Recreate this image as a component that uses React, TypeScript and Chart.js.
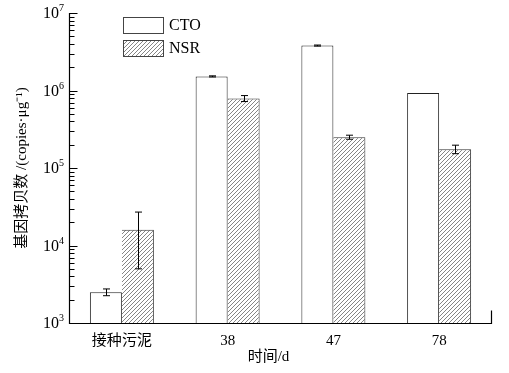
import React, { useEffect, useRef } from 'react';
import { Chart, registerables } from 'chart.js';

Chart.register(...registerables);

const categories = ['接种污泥', '38', '47', '78'];
const seriesNames = ['CTO', 'NSR'];
const ctoValues = [2.5e3, 1.52e6, 3.8e6, 9.3e5];
const ctoErrors = [0.25e3, 0.025e6, 0.06e6, 0];
const nsrValues = [1.6e4, 7.9e5, 2.5e5, 1.75e5];
const nsrErrors = [1.1e4, 0.7e5, 0.15e5, 0.22e5];
const yTickExponents = [3, 4, 5, 6, 7];
const xTitle = '时间/d';
const yTitle = '基因拷贝数 /(copies·μg⁻¹)';

const FONT_FAMILY = '"Liberation Serif", "Noto Sans CJK SC", serif';

function makeHatch(): CanvasPattern | string {
  const c = document.createElement('canvas');
  const s = 4;
  c.width = s;
  c.height = s;
  const g = c.getContext('2d');
  if (!g) return '#fff';
  g.fillStyle = '#fff';
  g.fillRect(0, 0, s, s);
  g.strokeStyle = '#666';
  g.lineWidth = 0.8;
  g.beginPath();
  g.moveTo(0, s);
  g.lineTo(s, 0);
  g.moveTo(-1, 1);
  g.lineTo(1, -1);
  g.moveTo(s - 1, s + 1);
  g.lineTo(s + 1, s - 1);
  g.stroke();
  const p = g.createPattern(c, 'repeat');
  return p || '#fff';
}

export default function App() {
  const ref = useRef<HTMLCanvasElement | null>(null);

  useEffect(() => {
    if (!ref.current) return;
    const hatch = makeHatch();

    const customPlugin = {
      id: 'customDecor',
      afterDatasetsDraw(chart: any) {
        const { ctx, chartArea, scales } = chart;
        const y = scales.y;
        const x = scales.x;
        ctx.save();
        ctx.strokeStyle = '#000';
        ctx.fillStyle = '#000';
        ctx.lineWidth = 1;

        // error bars
        const drawErr = (dsIndex: number, values: number[], errors: number[]) => {
          const meta = chart.getDatasetMeta(dsIndex);
          meta.data.forEach((bar: any, i: number) => {
            const e = errors[i];
            if (!e) return;
            const cx = Math.round(bar.x) + 0.5;
            const yt = y.getPixelForValue(values[i] + e);
            const yb = y.getPixelForValue(values[i] - e);
            ctx.beginPath();
            ctx.moveTo(cx, yt);
            ctx.lineTo(cx, yb);
            ctx.moveTo(cx - 3.5, yt);
            ctx.lineTo(cx + 3.5, yt);
            ctx.moveTo(cx - 3.5, yb);
            ctx.lineTo(cx + 3.5, yb);
            ctx.stroke();
          });
        };
        drawErr(0, ctoValues, ctoErrors);
        drawErr(1, nsrValues, nsrErrors);

        // axes
        const L = Math.round(chartArea.left) + 0.5;
        const B = Math.round(chartArea.bottom) + 0.5;
        const R = Math.round(chartArea.right) - 0.5;
        ctx.lineWidth = 1.2;
        ctx.beginPath();
        ctx.moveTo(L, chartArea.top);
        ctx.lineTo(L, B);
        ctx.lineTo(R, B);
        ctx.lineTo(R, B - 13);
        ctx.stroke();
        ctx.lineWidth = 1;

        // y ticks (inward)
        ctx.beginPath();
        yTickExponents.forEach((e, idx) => {
          const base = Math.pow(10, e);
          const py = Math.round(y.getPixelForValue(base)) + 0.5;
          ctx.moveTo(L, py);
          ctx.lineTo(L + 8, py);
          if (idx < yTickExponents.length - 1) {
            for (let m = 2; m <= 9; m++) {
              const my = Math.round(y.getPixelForValue(base * m)) + 0.5;
              ctx.moveTo(L, my);
              ctx.lineTo(L + 5, my);
            }
          }
        });
        ctx.stroke();

        // y tick labels 10^n
        yTickExponents.forEach((e) => {
          const py = y.getPixelForValue(Math.pow(10, e));
          const expStr = String(e);
          ctx.font = `10px ${FONT_FAMILY}`;
          const wExp = ctx.measureText(expStr).width;
          const xEnd = 64;
          ctx.textAlign = 'left';
          ctx.textBaseline = 'alphabetic';
          ctx.fillText(expStr, xEnd - wExp, py - 2);
          ctx.font = `16px ${FONT_FAMILY}`;
          ctx.textAlign = 'right';
          ctx.textBaseline = 'middle';
          ctx.fillText('10', xEnd - wExp, py + 1);
        });

        // x title
        ctx.font = `15px ${FONT_FAMILY}`;
        ctx.textAlign = 'center';
        ctx.textBaseline = 'middle';
        const xc = (x.left + x.right) / 2 - 12;
        ctx.fillText(xTitle, xc, 357);

        // legend
        const fills = ['#fff', hatch];
        seriesNames.forEach((name, i) => {
          const bx = 123.5;
          const by = 17.5 + i * 23;
          ctx.fillStyle = fills[i] as any;
          ctx.fillRect(bx, by, 40, 16);
          ctx.strokeStyle = '#444';
          ctx.strokeRect(bx, by, 40, 16);
          ctx.fillStyle = '#000';
          ctx.font = `16px ${FONT_FAMILY}`;
          ctx.textAlign = 'left';
          ctx.textBaseline = 'middle';
          ctx.fillText(name, 169, by + 8.5);
        });

        ctx.restore();
      },
    };

    const chart = new Chart(ref.current, {
      type: 'bar',
      data: {
        labels: categories,
        datasets: [
          {
            label: seriesNames[0],
            data: ctoValues,
            backgroundColor: '#fff',
            borderColor: '#222',
            borderWidth: { top: 1, left: 1, right: 1, bottom: 0 } as any,
            borderSkipped: false as any,
            categoryPercentage: 0.605,
            barPercentage: 1,
          },
          {
            label: seriesNames[1],
            data: nsrValues,
            backgroundColor: hatch as any,
            borderColor: '#333',
            borderWidth: { top: 1, left: 0, right: 1, bottom: 0 } as any,
            borderSkipped: false as any,
            categoryPercentage: 0.605,
            barPercentage: 1,
          },
        ],
      },
      options: {
        responsive: false,
        animation: false,
        devicePixelRatio: 1,
        layout: { padding: { top: 13, right: 17, left: 0, bottom: 0 } },
        plugins: {
          legend: { display: false },
          tooltip: { enabled: false },
        },
        scales: {
          x: {
            grid: { display: false, drawTicks: false },
            border: { display: false },
            ticks: {
              color: '#000',
              font: { family: FONT_FAMILY, size: 15 },
              padding: 9,
              maxRotation: 0,
              autoSkip: false,
            },
            afterFit: (s: any) => {
              s.height = 50;
            },
          },
          y: {
            type: 'logarithmic',
            min: 1e3,
            max: 1e7,
            grid: { display: false, drawTicks: false },
            border: { display: false },
            ticks: { display: false },
            title: {
              display: true,
              text: yTitle,
              color: '#000',
              font: { family: FONT_FAMILY, size: 15 },
              padding: { top: 13, bottom: 0 },
            },
            afterFit: (s: any) => {
              s.width = 69;
            },
          },
        },
      },
      plugins: [customPlugin],
    });

    return () => chart.destroy();
  }, []);

  return (
    <div style={{ position: 'fixed', left: 0, top: 0, width: 509, height: 373, background: '#fff' }}>
      <canvas ref={ref} width={509} height={373} style={{ display: 'block' }} />
    </div>
  );
}
